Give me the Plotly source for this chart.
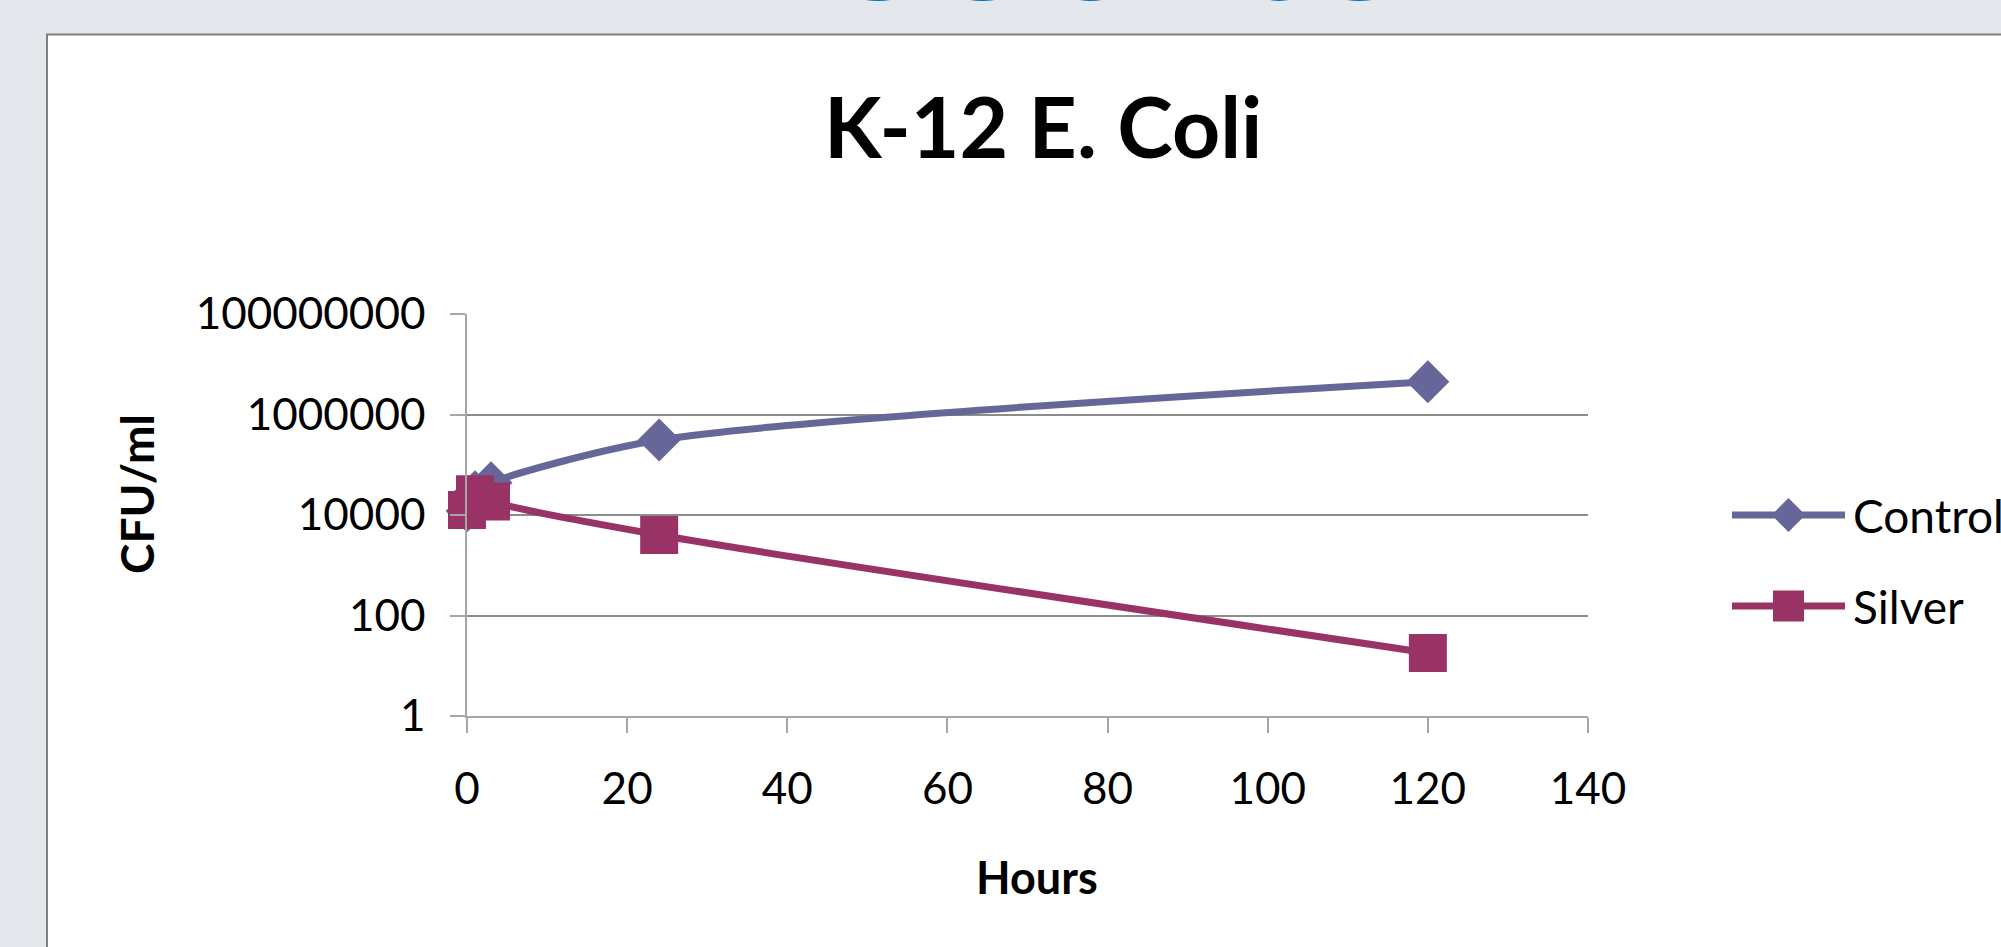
import plotly.graph_objects as go

# ---------------- data ----------------
hours = [0, 1, 3, 24, 120]
control_cfu = [12000, 29000, 44000, 310000, 4500000]
silver_cfu = [12600, 26000, 18600, 4000, 18]
series_names = ["Control", "Silver"]
series_colors = ["#666699", "#993366"]
series_symbols = ["diamond", "square"]
x_ticks = [0, 20, 40, 60, 80, 100, 120, 140]
y_ticks = [1, 100, 10000, 1000000, 100000000]
y_tick_text = ["1", "100", "10000", "1000000", "100000000"]
title_text = "K-12 E. Coli"
x_title = "Hours"
y_title = "CFU/ml"
header_text = "Results"

# ---------------- geometry helpers ----------------
W, H = 2001, 947
L, R, T, B = 467, 0, 314, 231
PW = W - L - R
PH = H - T - B


def px(xp):
    return (xp - L) / PW


def py(yp):
    return (H - B - yp) / PH


FONT = "Lato, 'Open Sans', sans-serif"
AXIS_GREY = "#A6A6A6"
GRID_GREY = "#8C8C8C"

fig = go.Figure()

series_values = [control_cfu, silver_cfu]
marker_sizes = [33, 38]
for name, vals, col, sym, ms in zip(series_names, series_values, series_colors,
                                    series_symbols, marker_sizes):
    fig.add_trace(go.Scatter(
        x=hours, y=vals, name=name, mode="lines+markers",
        line=dict(color=col, width=7, shape="spline", smoothing=0.8),
        marker=dict(symbol=sym, size=ms, color=col, opacity=1, line=dict(width=0)),
        xaxis="x", yaxis="y", showlegend=False, cliponaxis=False,
    ))

# custom legend swatches (long line with a marker in the middle)
legend_rows = [py(515), py(606)]
legend_marker_sizes = [26, 31]
for name, col, sym, row, ms in zip(series_names, series_colors, series_symbols,
                                   legend_rows, legend_marker_sizes):
    fig.add_trace(go.Scatter(
        x=[0, 1], y=[row, row], mode="lines",
        line=dict(color=col, width=7),
        xaxis="x2", yaxis="y2", showlegend=False, hoverinfo="skip",
        cliponaxis=False,
    ))
    fig.add_trace(go.Scatter(
        x=[0.5], y=[row], mode="markers",
        marker=dict(symbol=sym, size=ms, color=col, opacity=1, line=dict(width=0)),
        xaxis="x2", yaxis="y2", showlegend=False, hoverinfo="skip",
        cliponaxis=False,
    ))

tickfont = dict(family=FONT, size=44, color="#000000")

fig.update_layout(
    width=W, height=H, autosize=False,
    margin=dict(l=L, r=R, t=T, b=B, pad=0, autoexpand=False),
    paper_bgcolor="#E4E7EC",
    plot_bgcolor="#FFFFFF",
    showlegend=False,
    xaxis=dict(
        domain=[0, px(1588)], range=[0, 140], tickvals=x_ticks,
        showgrid=False, zeroline=False,
        showline=True, linecolor=AXIS_GREY, linewidth=1.5,
        ticks="outside", ticklen=15, tickwidth=1.5, tickcolor=AXIS_GREY,
        tickfont=tickfont, ticklabelstandoff=18, anchor="y",
    ),
    yaxis=dict(
        type="log", range=[0, 8], tickvals=y_ticks, ticktext=y_tick_text,
        showgrid=True, gridcolor=GRID_GREY, gridwidth=1.5, zeroline=False,
        showline=True, linecolor=AXIS_GREY, linewidth=1.5,
        ticks="outside", ticklen=15, tickwidth=1.5, tickcolor=AXIS_GREY,
        tickfont=tickfont, ticklabelstandoff=16, anchor="x",
    ),
    xaxis2=dict(domain=[px(1732), px(1845)], range=[0, 1], visible=False,
                anchor="y2", fixedrange=True),
    yaxis2=dict(domain=[0, 1], range=[0, 1], visible=False, anchor="x2",
                fixedrange=True),
)

# white chart panel with grey border
fig.add_shape(type="rect", xref="paper", yref="paper",
              x0=px(47), x1=px(2030), y0=py(34.5), y1=py(990),
              fillcolor="#FFFFFF", line=dict(color="#7F7F7F", width=2),
              layer="below")

annotations = [
    dict(text=header_text, x=px(1042), y=py(50), xanchor="center", yanchor="bottom",
         font=dict(family=FONT, size=232, color="#0070C0", weight="bold")),
    dict(text=title_text, x=px(1043), y=py(126), xanchor="center", yanchor="middle",
         font=dict(family=FONT, size=84, color="#000000", weight="bold")),
    dict(text=x_title, x=px(1037), y=py(877), xanchor="center", yanchor="middle",
         font=dict(family=FONT, size=45, color="#000000", weight="bold")),
    dict(text=y_title, x=px(136), y=py(494), xanchor="center", yanchor="middle",
         textangle=-90,
         font=dict(family=FONT, size=46, color="#000000", weight="bold")),
]
for name, row in zip(series_names, [515, 606]):
    annotations.append(dict(text=name, x=px(1851), y=py(row), xanchor="left",
                            yanchor="middle",
                            font=dict(family=FONT, size=46, color="#000000")))
for a in annotations:
    a.update(xref="paper", yref="paper", showarrow=False)
fig.update_layout(annotations=annotations)

fig.write_html("out.html",
               config={"responsive": False, "displayModeBar": False},
               post_script="document.body.style.margin='0';"
                           "document.body.style.overflow='hidden';")
